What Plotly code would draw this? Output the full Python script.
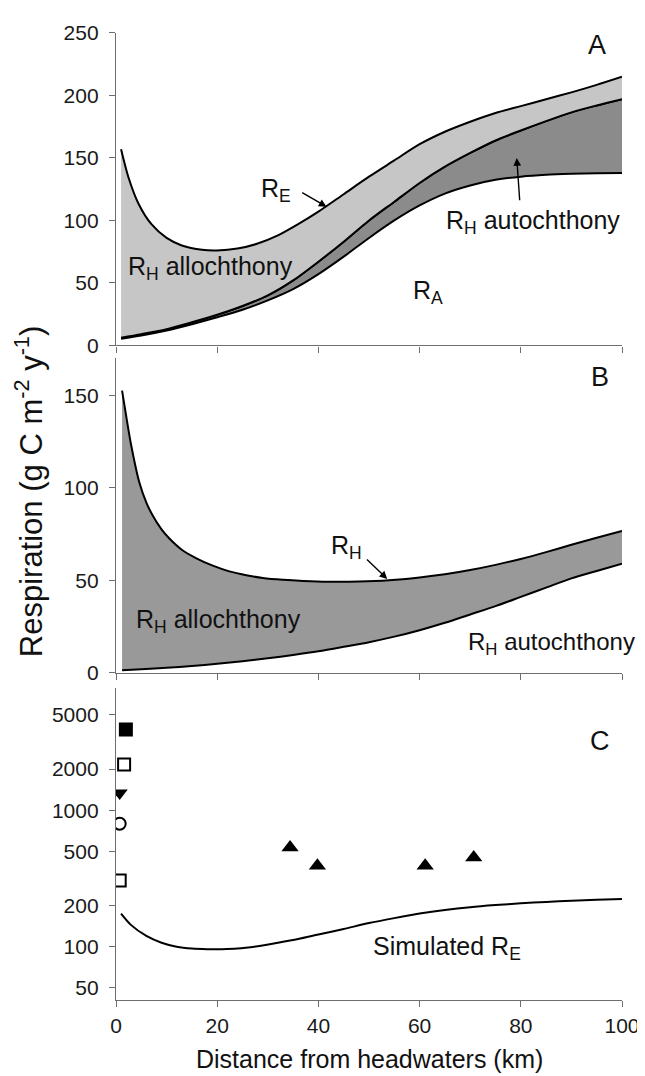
import plotly.graph_objects as go

# ---------------- data ----------------
# Panel A: ecosystem respiration partitioning (g C m-2 y-1) vs distance (km)
a_km = [1, 2.5, 4.5, 7, 10, 13, 17, 20, 24, 28, 32, 36, 40, 45, 50, 55, 60, 65, 70, 75, 80, 85, 90, 95, 100]
a_re = [157, 134, 113, 97, 86, 80, 76.5, 76, 77.5, 81.5, 88, 97, 107, 121, 135, 148, 161, 171, 179, 186, 191.5, 197, 202.5, 208.5, 215]

m_km = [1, 5, 10, 15, 20, 25, 30, 35, 40, 45, 50, 55, 60, 65, 70, 75, 80, 85, 90, 95, 100]
a_mid = [6.2, 9, 13, 18.5, 24.5, 31.5, 40, 52, 67, 83, 100, 115, 130, 143, 154, 164, 172, 179.5, 186.5, 192, 197]
a_ra = [5.4, 8, 12, 17, 22.5, 28.5, 36, 45, 57, 71, 86, 100, 112, 121.5, 128, 132.5, 135, 136.5, 137.3, 137.8, 138]

# Panel B: heterotrophic respiration
b_km = [1.2, 2, 3, 4.6, 6, 7.2, 9, 10.5, 13, 15.8, 19, 22.4, 26, 29, 33, 37, 42, 48, 54, 60, 65, 70, 75, 80, 85, 90, 95, 100]
b_rh = [152.5, 139, 123, 103, 92, 85.3, 77.5, 72.7, 66.5, 62, 58, 54.8, 52.6, 51.2, 50.2, 49.6, 49.2, 49.3, 50, 51.5,
        53.2, 55.5, 58.3, 61.5, 65.2, 69.2, 73, 76.7]
ba_km = [1.2, 5, 10, 15, 20, 25, 30, 35, 40, 45, 50, 55, 60, 65, 70, 75, 80, 85, 90, 95, 100]
b_auto = [1.3, 1.9, 2.7, 3.6, 4.8, 6.2, 7.8, 9.6, 11.6, 14, 16.5, 19.5, 23, 27, 31.5, 36, 41, 46, 51, 55, 59]

# Panel C: simulated RE (log scale) and observations
c_km = [1, 3, 6, 9, 12, 15, 18, 21, 24, 28, 32, 36, 40, 45, 50, 55, 60, 65, 70, 75, 80, 85, 90, 95, 100]
c_re = [175, 144, 120, 107, 100, 97, 96, 96, 97, 101, 107, 114, 123, 135, 149, 162, 175, 186, 195, 202, 208, 213,
        217, 221, 224]

obs_fsq_x, obs_fsq_y = [1.95], [3900]
obs_osq_x, obs_osq_y = [1.6, 0.73], [2160, 305]
obs_tdn_x, obs_tdn_y = [0.73], [1336]
obs_cir_x, obs_cir_y = [0.73], [796]
obs_tup_x = [34.4, 39.8, 61.1, 70.7]
obs_tup_y = [532, 392, 392, 451]

x_ticks = [0, 20, 40, 60, 80, 100]
a_ticks = [0, 50, 100, 150, 200, 250]
b_ticks = [0, 50, 100, 150]
c_ticks = [50, 100, 200, 500, 1000, 2000, 5000]

# ---------------- styling ----------------
FONT = "Arial, Liberation Sans, sans-serif"
LIGHT = "#c6c6c6"
DARK = "#8b8b8b"
MID = "#999999"
AXC = "#6e6e6e"
LW = 2

fig = go.Figure()
ln = dict(color="black", width=LW, shape="spline", smoothing=0.8)

# Panel A
fig.add_trace(go.Scatter(x=m_km, y=a_ra, mode="lines", line=ln, xaxis="x", yaxis="y", showlegend=False))
fig.add_trace(go.Scatter(x=m_km, y=a_mid, mode="lines", line=ln, fill="tonexty", fillcolor=DARK,
                         xaxis="x", yaxis="y", showlegend=False))
fig.add_trace(go.Scatter(x=a_km + m_km[::-1], y=a_re + a_mid[::-1], mode="lines", line=dict(width=0),
                         fill="toself", fillcolor=LIGHT, xaxis="x", yaxis="y", showlegend=False,
                         hoverinfo="skip"))
fig.add_trace(go.Scatter(x=m_km, y=a_mid, mode="lines", line=ln, xaxis="x", yaxis="y", showlegend=False))
fig.add_trace(go.Scatter(x=a_km, y=a_re, mode="lines", line=ln, xaxis="x", yaxis="y", showlegend=False))

# Panel B
fig.add_trace(go.Scatter(x=ba_km + b_km[::-1], y=b_auto + b_rh[::-1], mode="lines", line=dict(width=0),
                         fill="toself", fillcolor=MID, xaxis="x2", yaxis="y2", showlegend=False,
                         hoverinfo="skip"))
fig.add_trace(go.Scatter(x=ba_km, y=b_auto, mode="lines", line=ln, xaxis="x2", yaxis="y2", showlegend=False))
fig.add_trace(go.Scatter(x=b_km, y=b_rh, mode="lines", line=ln, xaxis="x2", yaxis="y2", showlegend=False))

# Panel C
fig.add_trace(go.Scatter(x=c_km, y=c_re, mode="lines", line=ln, xaxis="x3", yaxis="y3", showlegend=False))
mk = dict(size=12, line=dict(color="black", width=2))
fig.add_trace(go.Scatter(x=obs_fsq_x, y=obs_fsq_y, mode="markers",
                         marker=dict(symbol="square", color="black", **mk), xaxis="x3", yaxis="y3", showlegend=False))
fig.add_trace(go.Scatter(x=obs_osq_x, y=obs_osq_y, mode="markers",
                         marker=dict(symbol="square-open", color="black", **mk), xaxis="x3", yaxis="y3", showlegend=False))
fig.add_trace(go.Scatter(x=obs_tdn_x, y=obs_tdn_y, mode="markers",
                         marker=dict(symbol="triangle-down", color="black", size=14, line=dict(width=0)),
                         xaxis="x3", yaxis="y3", showlegend=False))
fig.add_trace(go.Scatter(x=obs_cir_x, y=obs_cir_y, mode="markers",
                         marker=dict(symbol="circle-open", color="black", **mk), xaxis="x3", yaxis="y3", showlegend=False))
fig.add_trace(go.Scatter(x=obs_tup_x, y=obs_tup_y, mode="markers",
                         marker=dict(symbol="triangle-up", color="black", size=15, line=dict(width=0)),
                         xaxis="x3", yaxis="y3", showlegend=False))

W, H = 645, 1076
ML, MR, MT, MB = 108, 31, 16, 84
PH = H - MT - MB


def dom(top_px, bot_px):
    return [(H - MB - bot_px) / PH, (H - MB - top_px) / PH]


tickfont = dict(family=FONT, size=21, color="#1a1a1a")
common_x = dict(range=[0, 100], tickvals=x_ticks, ticks="outside", ticklen=6, tickcolor=AXC,
                showline=True, linecolor=AXC, linewidth=1.3, showgrid=False, zeroline=False,
                tickfont=tickfont, ticklabelstandoff=1)
common_y = dict(ticks="outside", ticklen=6, tickcolor=AXC, showline=True, linecolor=AXC,
                linewidth=1.3, showgrid=False, zeroline=False, tickfont=tickfont, ticklabelstandoff=6)

fig.update_layout(
    width=W, height=H,
    margin=dict(l=ML, r=MR, t=MT, b=MB),
    plot_bgcolor="white", paper_bgcolor="white",
    font=dict(family=FONT, color="#111111"),
    xaxis=dict(domain=[0, 1], anchor="y", showticklabels=False, **common_x),
    yaxis=dict(domain=dom(17, 332), range=[0, 250], tickvals=a_ticks, anchor="x", **common_y),
    xaxis2=dict(domain=[0, 1], anchor="y2", showticklabels=False, **common_x),
    yaxis2=dict(domain=dom(345, 662), range=[0, 170], tickvals=b_ticks, anchor="x2", **common_y),
    xaxis3=dict(domain=[0, 1], anchor="y3", showticklabels=True, **common_x),
    yaxis3=dict(domain=dom(677, 992), type="log", range=[1.61, 3.898], tickvals=c_ticks,
                ticktext=[str(v) for v in c_ticks], anchor="x3", **common_y),
)

AF = dict(family=FONT, size=25, color="#111111")
LF = dict(family=FONT, size=27, color="#111111")

ann = []


def txt(x, y, s, xr, yr, xanchor="left", font=AF):
    ann.append(dict(x=x, y=y, xref=xr, yref=yr, text=s, showarrow=False,
                    xanchor=xanchor, yanchor="middle", font=font))


def arrow(tx, ty, hx, hy, xr, yr):
    ann.append(dict(x=hx, y=hy, ax=tx, ay=ty, xref=xr, yref=yr, axref=xr, ayref=yr,
                    text="", showarrow=True, arrowhead=2, arrowsize=1.1, arrowwidth=1.4,
                    arrowcolor="black"))


# Panel A labels
txt(95, 240, "A", "x", "y", "center", LF)
txt(31.7, 124, "R<sub>E</sub>", "x", "y", "center")
arrow(36.5, 123, 41.6, 111, "x", "y")
txt(64.8, 99, "R<sub>H</sub> autochthony", "x", "y")
arrow(79.8, 115, 79.2, 150, "x", "y")
txt(1.95, 62, "R<sub>H</sub> allochthony", "x", "y")
txt(58.3, 43, "R<sub>A</sub>", "x", "y")

# Panel B labels
txt(95.7, 160, "B", "x2", "y2", "center", LF)
txt(42, 68, "R<sub>H</sub>", "x2", "y2")
arrow(49.3, 62, 53.6, 50.7, "x2", "y2")
txt(3.6, 28, "R<sub>H</sub> allochthony", "x2", "y2")
txt(69.2, 16, "R<sub>H</sub> autochthony", "x2", "y2",
    font=dict(family=FONT, size=24, color="#111111"))

# Panel C labels
txt(95.7, 3.508, "C", "x3", "y3", "center", LF)
txt(50.4, 1.99, "Simulated R<sub>E</sub>", "x3", "y3")

# axis titles
ann.append(dict(x=0.5, y=(H - MB - 1051) / PH, xref="paper", yref="paper",
                text="Distance from headwaters (km)", showarrow=False,
                xanchor="center", yanchor="middle", font=dict(family=FONT, size=25, color="#111111")))
ann.append(dict(x=(21 - ML) / (W - ML - MR), y=(H - MB - 480) / PH, xref="paper", yref="paper",
                text="Respiration (g C m<sup>-2</sup> y<sup>-1</sup>)", showarrow=False, textangle=-90,
                xanchor="center", yanchor="middle", font=dict(family=FONT, size=31, color="#111111")))

fig.update_layout(annotations=ann)
fig.write_html("out.html")
